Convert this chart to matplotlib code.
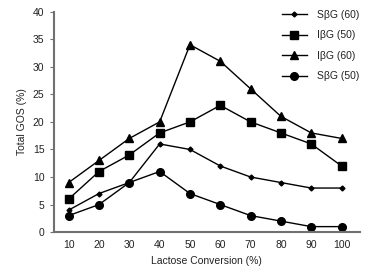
import matplotlib
matplotlib.use("Agg")
import matplotlib.pyplot as plt

conversion = [10, 20, 30, 40, 50, 60, 70, 80, 90, 100]
sbg_60 = [4, 7, 9, 16, 15, 12, 10, 9, 8, 8]
ibg_50 = [6, 11, 14, 18, 20, 23, 20, 18, 16, 12]
ibg_60 = [9, 13, 17, 20, 34, 31, 26, 21, 18, 17]
sbg_50 = [3, 5, 9, 11, 7, 5, 3, 2, 1, 1]

plt.rcParams['font.family'] = ['Liberation Sans', 'DejaVu Sans']

fig, ax = plt.subplots(figsize=(3.69, 2.78), dpi=100)
fig.subplots_adjust(left=0.145, right=0.975, bottom=0.165, top=0.958)

ax.plot(conversion, sbg_60, color='black', lw=1, marker='D', ms=2.5, label='SβG (60)')
ax.plot(conversion, ibg_50, color='black', lw=1, marker='s', ms=5.5, label='IβG (50)')
ax.plot(conversion, ibg_60, color='black', lw=1, marker='^', ms=5.5, label='IβG (60)')
ax.plot(conversion, sbg_50, color='black', lw=1, marker='o', ms=5.5, label='SβG (50)')

ax.set_xlim(5, 106)
ax.set_ylim(0, 40)
ax.set_xticks(conversion)
ax.set_yticks(range(0, 41, 5))
ax.tick_params(axis='x', length=0, labelsize=7.5, pad=6, labelcolor='#222222')
ax.tick_params(axis='y', length=3, color='#707070', labelsize=7.5, labelcolor='#222222')
ax.set_xlabel('Lactose Conversion (%)', fontsize=7.5, color='#222222')
ax.set_ylabel('Total GOS (%)', fontsize=7.5, color='#222222')

for s in ['top', 'right']:
    ax.spines[s].set_visible(False)
for s in ['left', 'bottom']:
    ax.spines[s].set_color('#707070')
    ax.spines[s].set_linewidth(1.5)

ax.legend(loc='upper right', frameon=False, fontsize=7.5, handlelength=2.4,
          handletextpad=1.0, labelspacing=1.0, bbox_to_anchor=(1.03, 1.05),
          labelcolor='#222222')

fig.savefig('out.png', dpi=100)
